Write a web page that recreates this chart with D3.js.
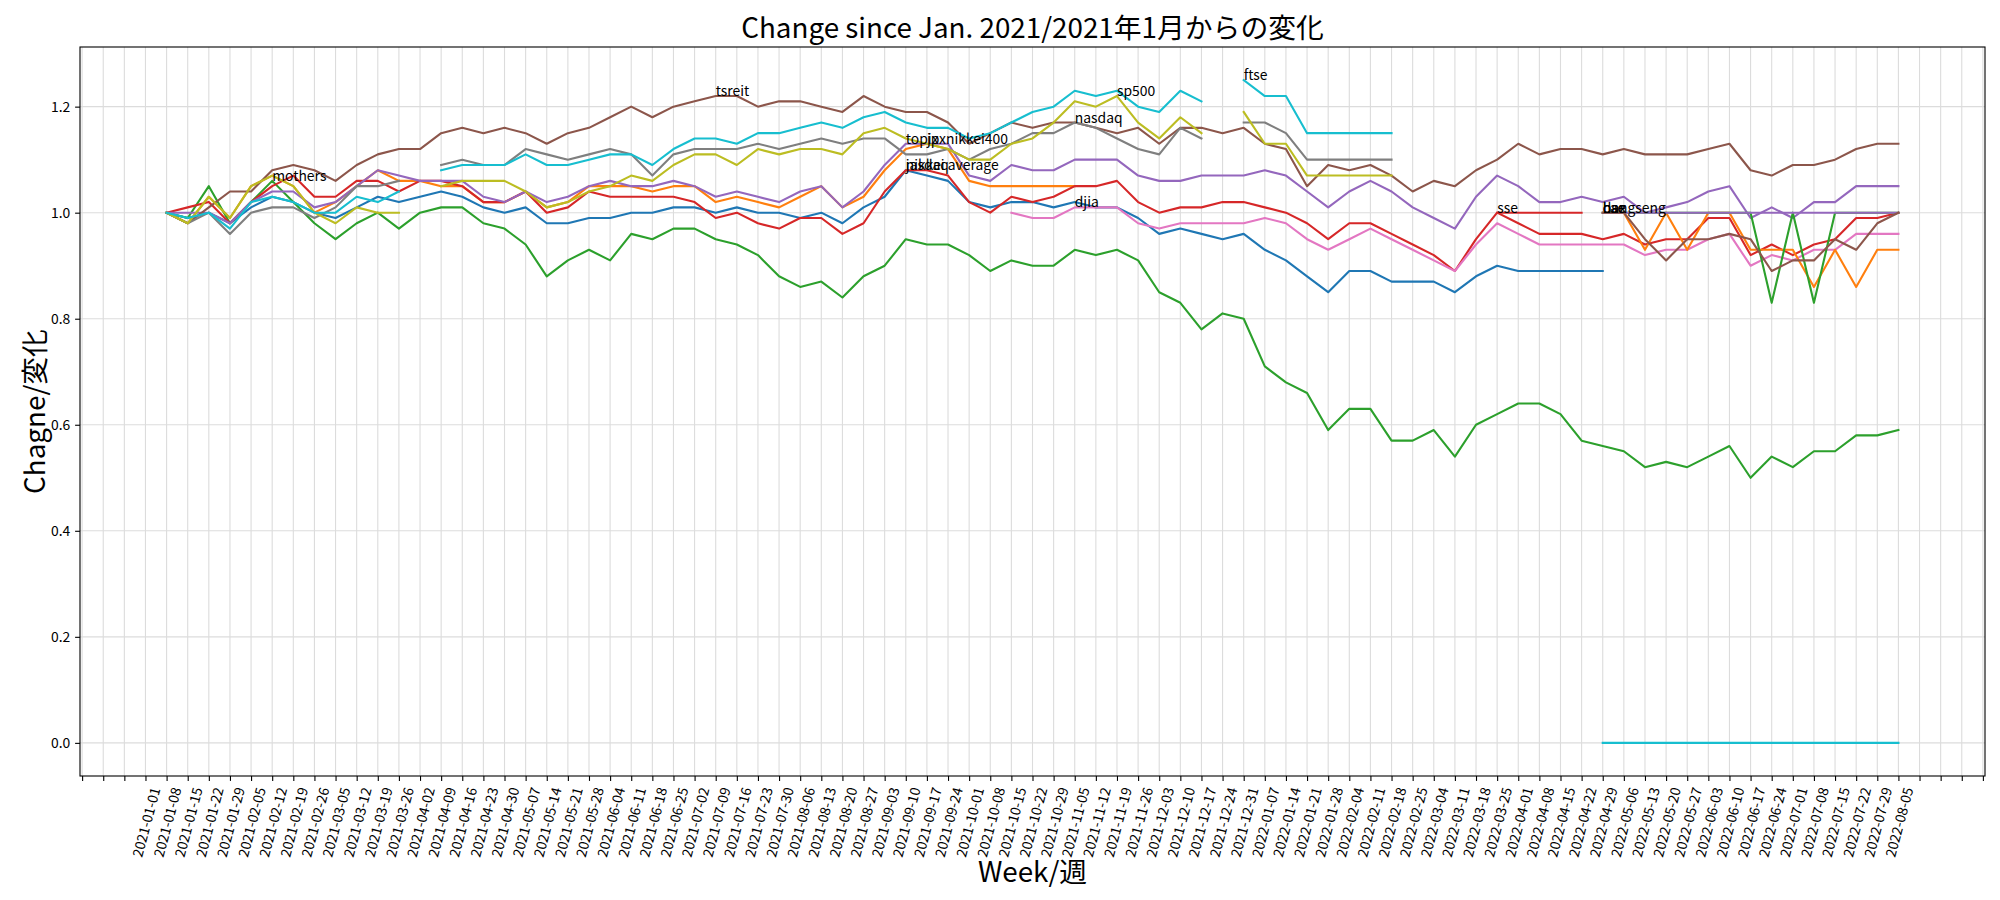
<!DOCTYPE html>
<html><head><meta charset="utf-8">
<script src="https://cdn.jsdelivr.net/npm/d3@7"></script>
<style>
body{margin:0;background:#fff}
svg{display:block}
text{font-family:"Noto Sans CJK JP","Noto Sans",sans-serif;fill:#000}
</style>
</head><body>
<svg id="chart" width="2000" height="900"></svg>
<script>
// ---------- data ----------
const weeks = [
"2021-01-01","2021-01-08","2021-01-15","2021-01-22","2021-01-29","2021-02-05","2021-02-12","2021-02-19","2021-02-26",
"2021-03-05","2021-03-12","2021-03-19","2021-03-26","2021-04-02","2021-04-09","2021-04-16","2021-04-23","2021-04-30",
"2021-05-07","2021-05-14","2021-05-21","2021-05-28","2021-06-04","2021-06-11","2021-06-18","2021-06-25","2021-07-02",
"2021-07-09","2021-07-16","2021-07-23","2021-07-30","2021-08-06","2021-08-13","2021-08-20","2021-08-27","2021-09-03",
"2021-09-10","2021-09-17","2021-09-24","2021-10-01","2021-10-08","2021-10-15","2021-10-22","2021-10-29","2021-11-05",
"2021-11-12","2021-11-19","2021-11-26","2021-12-03","2021-12-10","2021-12-17","2021-12-24","2021-12-31",
"2022-01-07","2022-01-14","2022-01-21","2022-01-28","2022-02-04","2022-02-11","2022-02-18","2022-02-25","2022-03-04",
"2022-03-11","2022-03-18","2022-03-25","2022-04-01","2022-04-08","2022-04-15","2022-04-22","2022-04-29","2022-05-06",
"2022-05-13","2022-05-20","2022-05-27","2022-06-03","2022-06-10","2022-06-17","2022-06-24","2022-07-01","2022-07-08",
"2022-07-15","2022-07-22","2022-07-29","2022-08-05"];
const N = null;
const yTicks = [0.0, 0.2, 0.4, 0.6, 0.8, 1.0, 1.2];

const nikkeiBlue = [N,
1.00,0.99,1.00,0.98,1.01,1.03,1.02,1.00,0.99,1.01,
1.03,1.02,1.03,1.04,1.03,1.01,1.00,1.01,0.98,0.98,
0.99,0.99,1.00,1.00,1.01,1.01,1.00,1.01,1.00,1.00,
0.99,1.00,0.98,1.01,1.03,1.08,1.07,1.06,1.02,1.01,
1.02,1.02,1.01,1.02,1.01,1.01,0.99,0.96,0.97,0.96,
0.95,0.96,0.93,0.91,0.88,0.85,0.89,0.89,0.87,0.87,
0.87,0.85,0.88,0.90,0.89,0.89,0.89,0.89,0.89,N,
N,N,N,N,N,N,N,N,N,N,N,N,N];
const jpxOrange = [N,
1.00,0.98,1.03,0.99,1.05,1.07,1.05,1.00,1.02,1.05,
1.08,1.06,1.06,1.05,1.05,1.02,1.02,1.04,1.01,1.02,
1.05,1.05,1.05,1.04,1.05,1.05,1.02,1.03,1.02,1.01,
1.03,1.05,1.01,1.03,1.08,1.12,1.13,1.12,1.06,1.05,
1.05,1.05,1.05,1.05,N,N,N,N,N,N,
N,N,N,N,N,N,N,N,N,N,N,N,N,N,N,N,N,N,N,N,
N,N,N,N,N,N,N,N,N,N,N,N,N];
const mothersGreen = [N,
1.00,0.99,1.05,0.98,1.02,1.06,1.02,0.98,0.95,0.98,
1.00,0.97,1.00,1.01,1.01,0.98,0.97,0.94,0.88,0.91,
0.93,0.91,0.96,0.95,0.97,0.97,0.95,0.94,0.92,0.88,
0.86,0.87,0.84,0.88,0.90,0.95,0.94,0.94,0.92,0.89,
0.91,0.90,0.90,0.93,0.92,0.93,0.91,0.85,0.83,0.78,
0.81,0.80,0.71,0.68,0.66,0.59,0.63,0.63,0.57,0.57,
0.59,0.54,0.60,0.62,0.64,0.64,0.62,0.57,0.56,0.55,
0.52,0.53,0.52,0.54,0.56,0.50,0.54,0.52,0.55,0.55,
0.58,0.58,0.59];
const jasdaqRed = [N,
1.00,1.01,1.02,0.98,1.02,1.05,1.07,1.03,1.03,1.06,
1.06,1.04,1.06,1.06,1.05,1.02,1.02,1.04,1.00,1.01,
1.04,1.03,1.03,1.03,1.03,1.02,0.99,1.00,0.98,0.97,
0.99,0.99,0.96,0.98,1.04,1.08,1.08,1.07,1.02,1.00,
1.03,1.02,1.03,1.05,1.05,1.06,1.02,1.00,1.01,1.01,
1.02,1.02,1.01,1.00,0.98,0.95,0.98,0.98,0.96,0.94,
0.92,0.89,0.95,1.00,0.98,0.96,0.96,0.96,0.95,0.96,
0.94,0.95,0.95,0.99,0.99,0.92,0.94,0.92,0.94,0.95,
0.99,0.99,1.00];
const topixPurple = [N,
1.00,1.00,1.00,0.98,1.02,1.04,1.04,1.01,1.02,1.05,
1.08,1.07,1.06,1.06,1.06,1.03,1.02,1.04,1.02,1.03,
1.05,1.06,1.05,1.05,1.06,1.05,1.03,1.04,1.03,1.02,
1.04,1.05,1.01,1.04,1.09,1.13,1.13,1.13,1.07,1.06,
1.09,1.08,1.08,1.10,1.10,1.10,1.07,1.06,1.06,1.07,
1.07,1.07,1.08,1.07,1.04,1.01,1.04,1.06,1.04,1.01,
0.99,0.97,1.03,1.07,1.05,1.02,1.02,1.03,1.02,1.03,
1.00,1.01,1.02,1.04,1.05,0.99,1.01,0.99,1.02,1.02,
1.05,1.05,1.05];
const tsreitBrown = [N,
1.00,0.98,1.01,1.04,1.04,1.08,1.09,1.08,1.06,1.09,
1.11,1.12,1.12,1.15,1.16,1.15,1.16,1.15,1.13,1.15,
1.16,1.18,1.20,1.18,1.20,1.21,1.22,1.22,1.20,1.21,
1.21,1.20,1.19,1.22,1.20,1.19,1.19,1.17,1.13,1.15,
1.17,1.16,1.17,1.17,1.16,1.15,1.16,1.13,1.16,1.16,
1.15,1.16,1.13,1.12,1.05,1.09,1.08,1.09,1.07,1.04,
1.06,1.05,1.08,1.10,1.13,1.11,1.12,1.12,1.11,1.12,
1.11,1.11,1.11,1.12,1.13,1.08,1.07,1.09,1.09,1.10,
1.12,1.13,1.13];
const djiaPink = [N,
N,N,N,N,N,N,N,N,N,N,
N,N,N,N,N,N,N,N,N,N,
N,N,N,N,N,N,N,N,N,N,
N,N,N,N,N,N,N,N,N,N,
1.00,0.99,0.99,1.01,1.01,1.01,0.98,0.97,0.98,0.98,
0.98,0.98,0.99,0.98,0.95,0.93,0.95,0.97,0.95,0.93,
0.91,0.89,0.94,0.98,0.96,0.94,0.94,0.94,0.94,0.94,
0.92,0.93,0.93,0.95,0.96,0.90,0.92,0.91,0.93,0.93,
0.96,0.96,0.96];
const nasdaqGray = [N,
1.00,0.98,1.00,0.96,1.00,1.01,1.01,0.99,1.01,1.05,
1.05,1.06,N,1.09,1.10,1.09,1.09,1.12,1.11,1.10,
1.11,1.12,1.11,1.07,1.11,1.12,1.12,1.12,1.13,1.12,
1.13,1.14,1.13,1.14,1.14,1.11,1.11,1.12,1.10,1.12,
1.13,1.15,1.15,1.17,1.16,1.14,1.12,1.11,1.16,1.14,
N,1.17,1.17,1.15,1.10,1.10,1.10,1.10,1.10,N,
N,N,N,N,N,N,N,N,N,N,N,N,N,N,N,N,N,N,N,N,N,N,N];
const sp500Olive = [N,
1.00,0.98,1.03,0.99,1.05,1.07,1.05,1.00,0.98,1.01,
1.00,1.00,N,1.05,1.06,1.06,1.06,1.04,1.01,1.02,
1.04,1.05,1.07,1.06,1.09,1.11,1.11,1.09,1.12,1.11,
1.12,1.12,1.11,1.15,1.16,1.14,1.13,1.12,1.10,1.10,
1.13,1.14,1.17,1.21,1.20,1.22,1.17,1.14,1.18,1.15,
N,1.19,1.13,1.13,1.07,1.07,1.07,1.07,1.07,N,
N,N,N,N,N,N,N,N,N,N,N,N,N,N,N,N,N,N,N,N,N,N,N];
const ftseCyan = [N,
1.00,0.99,1.00,0.97,1.02,1.03,1.02,1.00,1.00,1.03,
1.02,1.04,N,1.08,1.09,1.09,1.09,1.11,1.09,1.09,
1.10,1.11,1.11,1.09,1.12,1.14,1.14,1.13,1.15,1.15,
1.16,1.17,1.16,1.18,1.19,1.17,1.16,1.16,1.14,1.15,
1.17,1.19,1.20,1.23,1.22,1.23,1.20,1.19,1.23,1.21,
N,1.25,1.22,1.22,1.15,1.15,1.15,1.15,1.15,N,
N,N,N,N,N,N,N,N,N,N,N,N,N,N,N,N,N,N,N,N,N,N,N];
// later, partial series (index 64.. / 69..83)
const sseRed = [N,N,N,N,N,N,N,N,N,N,N,N,N,N,N,N,N,N,N,N,N,N,N,N,N,N,N,N,N,N,N,N,N,N,N,N,N,N,N,N,
N,N,N,N,N,N,N,N,N,N,N,N,N,N,N,N,N,N,N,N,N,N,N,N,
1.00,1.00,1.00,1.00,1.00,N,N,N,N,N,N,N,N,N,N,N,N,N,N,N];
const daxOrange = [N,N,N,N,N,N,N,N,N,N,N,N,N,N,N,N,N,N,N,N,N,N,N,N,N,N,N,N,N,N,N,N,N,N,N,N,N,N,N,N,
N,N,N,N,N,N,N,N,N,N,N,N,N,N,N,N,N,N,N,N,N,N,N,N,N,N,N,N,N,
1.00,1.00,0.93,1.00,0.93,1.00,1.00,0.93,0.93,0.93,0.86,0.93,0.86,0.93,0.93];
const cacGreen = [N,N,N,N,N,N,N,N,N,N,N,N,N,N,N,N,N,N,N,N,N,N,N,N,N,N,N,N,N,N,N,N,N,N,N,N,N,N,N,N,
N,N,N,N,N,N,N,N,N,N,N,N,N,N,N,N,N,N,N,N,N,N,N,N,N,N,N,N,N,
1.00,1.00,1.00,1.00,1.00,1.00,1.00,1.00,0.83,1.00,0.83,1.00,1.00,1.00,1.00];
const hangsengPurple = [N,N,N,N,N,N,N,N,N,N,N,N,N,N,N,N,N,N,N,N,N,N,N,N,N,N,N,N,N,N,N,N,N,N,N,N,N,N,N,N,
N,N,N,N,N,N,N,N,N,N,N,N,N,N,N,N,N,N,N,N,N,N,N,N,N,N,N,N,N,
1.00,1.00,1.00,1.00,1.00,1.00,1.00,1.00,1.00,1.00,1.00,1.00,1.00,1.00,1.00];
const bseBrown = [N,N,N,N,N,N,N,N,N,N,N,N,N,N,N,N,N,N,N,N,N,N,N,N,N,N,N,N,N,N,N,N,N,N,N,N,N,N,N,N,
N,N,N,N,N,N,N,N,N,N,N,N,N,N,N,N,N,N,N,N,N,N,N,N,N,N,N,N,N,
1.00,1.00,0.95,0.91,0.95,0.95,0.96,0.95,0.89,0.91,0.91,0.95,0.93,0.98,1.00];
const zeroCyan = [N,N,N,N,N,N,N,N,N,N,N,N,N,N,N,N,N,N,N,N,N,N,N,N,N,N,N,N,N,N,N,N,N,N,N,N,N,N,N,N,
N,N,N,N,N,N,N,N,N,N,N,N,N,N,N,N,N,N,N,N,N,N,N,N,N,N,N,N,N,
0,0,0,0,0,0,0,0,0,0,0,0,0,0,0];

// annotations (week index, value)
const labelNames  = ["mothers","tsreit","topix","jpxnikkei400","jasdaq","nikkei average","nasdaq","djia","sp500","ftse","sse","dax","cac","bse","hangseng"];
const labelWeeks  = [6, 27, 36, 37, 36, 36, 44, 44, 46, 52, 64, 69, 69, 69, 69];
const labelValues = [1.06,1.22,1.13,1.13,1.08,1.08,1.17,1.01,1.22,1.25,1.00,1.00,1.00,1.00,1.00];

// ---------- styles ----------
const C = {blue:"#1f77b4",orange:"#ff7f0e",green:"#2ca02c",red:"#d62728",purple:"#9467bd",
           brown:"#8c564b",pink:"#e377c2",gray:"#7f7f7f",olive:"#bcbd22",cyan:"#17becf"};
const series = [
  [nikkeiBlue,C.blue],[jpxOrange,C.orange],[mothersGreen,C.green],[jasdaqRed,C.red],
  [topixPurple,C.purple],[tsreitBrown,C.brown],[djiaPink,C.pink],[nasdaqGray,C.gray],
  [sp500Olive,C.olive],[ftseCyan,C.cyan],
  [daxOrange,C.orange],[cacGreen,C.green],[sseRed,C.red],[hangsengPurple,C.purple],
  [bseBrown,C.brown],[zeroCyan,C.cyan]
];

// ---------- layout ----------
const L = 80, R = 1985, T = 47, B = 776;
const svg = d3.select("#chart");
const x = d3.scaleLinear().domain([-3.1, 87.1]).range([L, R]);
const y = d3.scaleLinear().domain([-0.0625, 1.3125]).range([B, T]);
const xTickIdx = d3.range(-3, 88);

// grid
const grid = svg.append("g");
grid.selectAll("line.v").data(xTickIdx).join("line")
  .attr("x1",d=>x(d)).attr("x2",d=>x(d)).attr("y1",T).attr("y2",B)
  .attr("stroke","#dcdcdc").attr("stroke-width",1.1);
grid.selectAll("line.h").data(yTicks).join("line")
  .attr("x1",L).attr("x2",R).attr("y1",d=>y(d)).attr("y2",d=>y(d))
  .attr("stroke","#dcdcdc").attr("stroke-width",1.1);

// lines
svg.append("clipPath").attr("id","clp").append("rect")
  .attr("x",L).attr("y",T).attr("width",R-L).attr("height",B-T);
const line = d3.line().defined(d=>d[1]!==null).x(d=>x(d[0])).y(d=>y(d[1]));
const lg = svg.append("g").attr("clip-path","url(#clp)");
series.forEach(([vals,col])=>{
  lg.append("path").datum(vals.map((v,i)=>[i,v]))
    .attr("d",line).attr("fill","none").attr("stroke",col)
    .attr("stroke-width",2.1).attr("stroke-linejoin","round").attr("stroke-linecap","square");
});

// annotations
const ag = svg.append("g");
labelNames.forEach((n,i)=>{
  ag.append("text").attr("x",x(labelWeeks[i])).attr("y",y(labelValues[i]))
    .attr("font-size",13.9).text(n);
});

// axes
const xAxis = d3.axisBottom(x).tickValues(xTickIdx).tickSize(4.9).tickFormat("");
const gx = svg.append("g").attr("transform",`translate(0,${B})`).call(xAxis);
gx.select(".domain").remove();
gx.selectAll(".tick line").attr("stroke","#000").attr("stroke-width",1.1);
const yAxis = d3.axisLeft(y).tickValues(yTicks).tickSize(4.9).tickPadding(4.9).tickFormat(d3.format(".1f"));
const gy = svg.append("g").attr("transform",`translate(${L},0)`).call(yAxis);
gy.select(".domain").remove();
gy.selectAll(".tick line").attr("stroke","#000").attr("stroke-width",1.1);
gy.selectAll(".tick text").attr("font-size",13.9).attr("font-family",null).attr("fill","#000");

// frame
svg.append("rect").attr("x",L).attr("y",T).attr("width",R-L).attr("height",B-T)
  .attr("fill","none").attr("stroke","#000").attr("stroke-width",1.1);

// rotated x tick labels
const tickTop = B + 4.9 + 4.9;
const ang = 75*Math.PI/180;
const xl = svg.append("g");
weeks.forEach((w,i)=>{
  const t = xl.append("text").attr("font-size",13.9).attr("fill","#222").text(w);
  const len = t.node().getComputedTextLength();
  const h = 13.9;
  const H = len*Math.sin(ang) + h*Math.cos(ang);
  t.attr("text-anchor","middle").attr("dominant-baseline","central")
   .attr("transform",`translate(${x(i)},${tickTop + H/2}) rotate(-75)`);
});

// titles
svg.append("text").attr("x",(L+R)/2).attr("y",38).attr("text-anchor","middle")
  .attr("font-size",27.8).text("Change since Jan. 2021/2021年1月からの変化");
svg.append("text").attr("x",(L+R)/2).attr("y",882).attr("text-anchor","middle")
  .attr("font-size",27.8).text("Week/週");
svg.append("text").attr("transform",`translate(45,${(T+B)/2}) rotate(-90)`).attr("text-anchor","middle")
  .attr("font-size",27.8).text("Chagne/変化");
</script>
</body></html>
